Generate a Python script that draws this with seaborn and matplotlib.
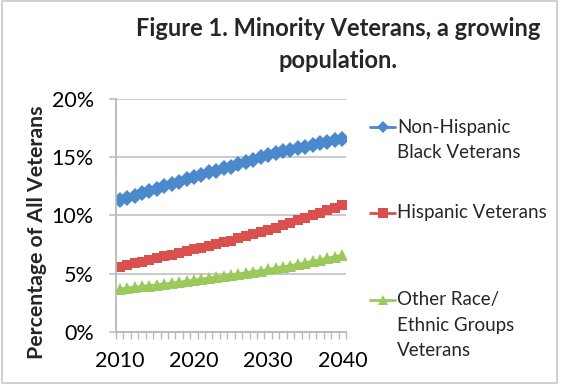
import numpy as np
import pandas as pd
import matplotlib.pyplot as plt
import seaborn as sns
from matplotlib.lines import Line2D
from matplotlib.patches import Rectangle
from matplotlib.ticker import FuncFormatter

# Data (percent of all veterans)
years = list(range(2010, 2041))
black = [11.3, 11.5, 11.7, 11.9, 12.1, 12.3, 12.5, 12.7, 12.9, 13.1,
         13.3, 13.5, 13.7, 13.85, 14.05, 14.2, 14.4, 14.6, 14.8, 15.0,
         15.2, 15.35, 15.5, 15.65, 15.8, 15.9, 16.05, 16.2, 16.35, 16.5, 16.6]
hispanic = [5.6, 5.75, 5.9, 6.05, 6.2, 6.35, 6.5, 6.65, 6.8, 6.95,
            7.1, 7.25, 7.4, 7.55, 7.7, 7.85, 8.03, 8.21, 8.39, 8.57,
            8.75, 8.96, 9.17, 9.38, 9.59, 9.8, 10.02, 10.24, 10.46, 10.68, 10.9]
other = [3.7, 3.77, 3.84, 3.91, 3.98, 4.05, 4.12, 4.2, 4.28, 4.36,
         4.45, 4.54, 4.63, 4.72, 4.81, 4.9, 4.99, 5.08, 5.17, 5.27,
         5.37, 5.48, 5.59, 5.7, 5.82, 5.94, 6.07, 6.2, 6.33, 6.46, 6.6]
series_names = ["Non-Hispanic\nBlack Veterans", "Hispanic Veterans",
                "Other Race/\nEthnic Groups\nVeterans"]
x_labels = [2010, 2020, 2030, 2040]
y_labels = [0, 5, 10, 15, 20]

colors = ["#4A89CC", "#D9504F", "#9BC95C"]
markers = ["D", "s", "^"]
msizes = [8, 7.5, 8.5]

sns.set_theme(style="white")
plt.rcParams["font.family"] = ["Lato", "DejaVu Sans"]

df = pd.DataFrame({"Year": years, series_names[0]: black,
                   series_names[1]: hispanic, series_names[2]: other})
long_df = df.melt(id_vars="Year", var_name="Series", value_name="Pct")

fig = plt.figure(figsize=(5.61, 3.85), dpi=100)
ax = fig.add_axes([0.2068, 0.1377, 0.41, 0.6052])

for name, c, m, ms in zip(series_names, colors, markers, msizes):
    sub = long_df[long_df["Series"] == name]
    sns.lineplot(data=sub, x="Year", y="Pct", ax=ax, color=c, marker=m,
                 markersize=ms, markeredgewidth=0, linewidth=2, legend=False)

ax.set_xlim(2009.5, 2040.5)
ax.set_ylim(0, 20)
ax.set_xticks(x_labels)
ax.set_xticks(np.arange(2009.5, 2041, 1), minor=True)
ax.set_yticks(y_labels)
ax.yaxis.set_major_formatter(FuncFormatter(lambda v, p: f"{v:.0f}%"))
ax.grid(axis="y", color="#c6c6c6", linewidth=1.3)
ax.set_axisbelow(True)
for s in ["top", "right"]:
    ax.spines[s].set_visible(False)
for s in ["left", "bottom"]:
    ax.spines[s].set_color("#b8b8b8")
    ax.spines[s].set_linewidth(1.3)
ax.tick_params(axis="x", which="major", length=0, pad=14, labelsize=15.5, colors="black")
ax.tick_params(axis="x", which="minor", length=5, width=1, color="#b8b8b8", direction="out")
ax.tick_params(axis="x", which="both", bottom=True)
ax.tick_params(axis="y", length=5, width=1.3, color="#c6c6c6", pad=11, labelsize=15.5,
               left=True, labelcolor="black")
ax.set_xlabel("")
ax.set_ylabel("")

fig.text(37 / 561, 1 - 232 / 385, "Percentage of All Veterans", rotation=90,
         ha="center", va="center", fontsize=15.3, fontweight="bold")
fig.text(338 / 561, 1 - 29 / 385, "Figure 1. Minority Veterans, a growing",
         ha="center", va="center", fontsize=17, fontweight="bold")
fig.text(338 / 561, 1 - 60 / 385, "population.",
         ha="center", va="center", fontsize=17, fontweight="bold")

# legend, drawn by hand so the marker sits on the first text line
first_line_y = [127, 213, 300]
for name, c, m, y in zip(series_names, colors, markers, first_line_y):
    yf = 1 - y / 385
    fig.add_artist(Line2D([370 / 561, 395 / 561], [yf, yf], color=c, linewidth=2))
    fig.add_artist(Line2D([382.5 / 561], [yf], color=c, marker=m,
                          markersize=6.5, markeredgewidth=0))
    lines = name.split("\n")
    for i, txt in enumerate(lines):
        fig.text(397 / 561, 1 - (y + 25 * i) / 385, txt, ha="left", va="center",
                 fontsize=13.5)

fig.add_artist(Rectangle((2 / 561, 2 / 385), 555 / 561, 382 / 385,
                         transform=fig.transFigure, fill=False,
                         edgecolor="#c8c8c8", linewidth=1.2))

fig.savefig("out.png", dpi=100)
